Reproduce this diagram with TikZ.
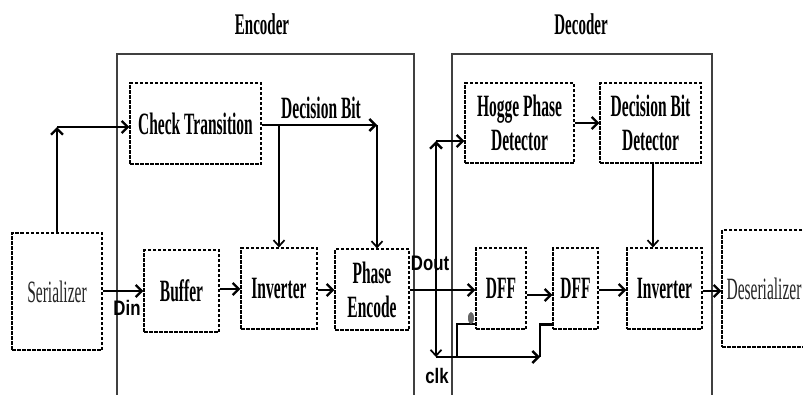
\documentclass[tikz,border=0pt]{standalone}
\usepackage{fontspec}
\setmainfont{Liberation Serif}
\newfontfamily\cond[FakeStretch=0.5]{Liberation Serif}
\newfontfamily\condsans[FakeStretch=0.8]{Liberation Sans}
\usetikzlibrary{arrows.meta}
\tikzset{
  blk/.style={draw=black, line width=1.2pt, dash pattern=on 3.5pt off 1.5pt, align=center, inner sep=0pt,
    font=\cond\bfseries\fontsize{31}{34}\selectfont},
  lightblk/.style={blk, font=\cond\fontsize{31}{34}\selectfont, text=black!85},
  frame/.style={draw=black!75, line width=1.3pt},
  sig/.style={line width=2.4pt, -{Straight Barb[length=6pt,width=12pt]}},
  thin sig/.style={line width=1.7pt, -{Straight Barb[length=6pt,width=11pt]}},
  plain/.style={line width=1.8pt},
  ttl/.style={font=\cond\bfseries\fontsize{30}{32}\selectfont},
  pin/.style={font=\condsans\bfseries\fontsize{21}{24}\selectfont, inner sep=0pt},
}
\begin{document}
\begin{tikzpicture}[x=1pt,y=-1pt]
\clip (0,0) rectangle (803,394);
\fill[white] (0,0) rectangle (803,394);
% frames
\draw[frame] (117,400) -- (117,54) -- (414,54) -- (414,400);
\draw[frame] (452,400) -- (452,54) -- (712,54) -- (712,400);
\node[ttl] (enc) at (262,24) {Encoder};
\node[ttl] (dec) at (581,24) {Decoder};
% blocks
\node[lightblk, minimum width=90pt, minimum height=117pt] (ser) at (57,291.5) {Serializer};
\node[blk, minimum width=75pt, minimum height=82pt] (buf) at (181.5,291) {Buffer};
\node[blk, minimum width=76pt, minimum height=81pt] (inv1) at (279,288.5) {Inverter};
\node[blk, minimum width=74pt, minimum height=81pt] (pe) at (372,289.5) {Phase\\Encode};
\node[blk, minimum width=131pt, minimum height=81pt] (ct) at (195.5,123.5) {Check Transition};
\node[blk, minimum width=109pt, minimum height=80pt] (hpd) at (519.5,123) {Hogge Phase\\Detector};
\node[blk, minimum width=101pt, minimum height=80pt] (dbd) at (650.5,123) {Decision Bit\\Detector};
\node[blk, minimum width=50pt, minimum height=81pt] (dff1) at (501,288.5) {DFF};
\node[blk, minimum width=45pt, minimum height=81pt] (dff2) at (575.5,288.5) {DFF};
\node[blk, minimum width=75pt, minimum height=81pt] (inv2) at (664.5,288.5) {Inverter};
\node[lightblk, minimum width=84pt, minimum height=117pt] (des) at (764,288.5) {Deserializer};
% encoder connections
\coordinate (c1) at (57,127);
\draw[sig] (ser.north) -- (c1);
\draw[sig] (c1) -- (c1 -| ct.west);
\coordinate (db1) at (279,125);
\coordinate (db2) at (377,125);
\draw[sig] (ct.east |- db1) -- (db2);
\node[font=\cond\bfseries\fontsize{31}{34}\selectfont] (dbl) at (321,108) {Decision Bit};
\draw[thin sig] (db1) -- (db1 |- inv1.north);
\draw[thin sig] (db2) -- (db2 |- pe.north);
\draw[sig] (ser.east |- 0,291) -- (buf.west |- 0,291);
\node[pin] (din) at (127,308) {Din};
\draw[sig] (buf.east |- 0,289) -- (inv1.west |- 0,289);
\draw[sig] (inv1.east |- 0,290) -- (pe.west |- 0,290);
% Dout and clock
\draw[sig] (pe.east |- 0,290) -- (dff1.west |- 0,290);
\node[pin] (dout) at (430,263) {Dout};
\coordinate (vt) at (436,141);
\coordinate (vb) at (436,357);
\coordinate (vm) at (436,290);
\draw[sig] (vm) -- (vt);
\draw[sig] (vt) -- (vt -| hpd.west);
\draw[thin sig] (vm) -- (vb);
\node[pin] (clk) at (437,376) {clk};
\coordinate (ce) at (540,357);
\draw[sig] (vb) -- (ce);
\coordinate (k1) at (457,357);
\draw[plain] (k1) -- (457,324) -- (dff1.west |- 0,324);
\fill[black!60] (471,318) ellipse (3pt and 6pt);
\draw[plain] (ce) -- (540,324);
\draw[line width=3pt] (539,324) -- (dff2.west |- 0,324);
% decoder connections
\draw[sig] (hpd.east |- 0,123) -- (dbd.west |- 0,123);
\draw[thin sig] (dbd.south -| 653,0) -- (inv2.north -| 653,0);
\draw[sig] (dff1.east |- 0,295) -- (dff2.west |- 0,295);
\draw[sig] (dff2.east |- 0,290) -- (inv2.west |- 0,290);
\draw[sig] (inv2.east |- 0,291) -- (des.west |- 0,291);
\end{tikzpicture}
\end{document}
